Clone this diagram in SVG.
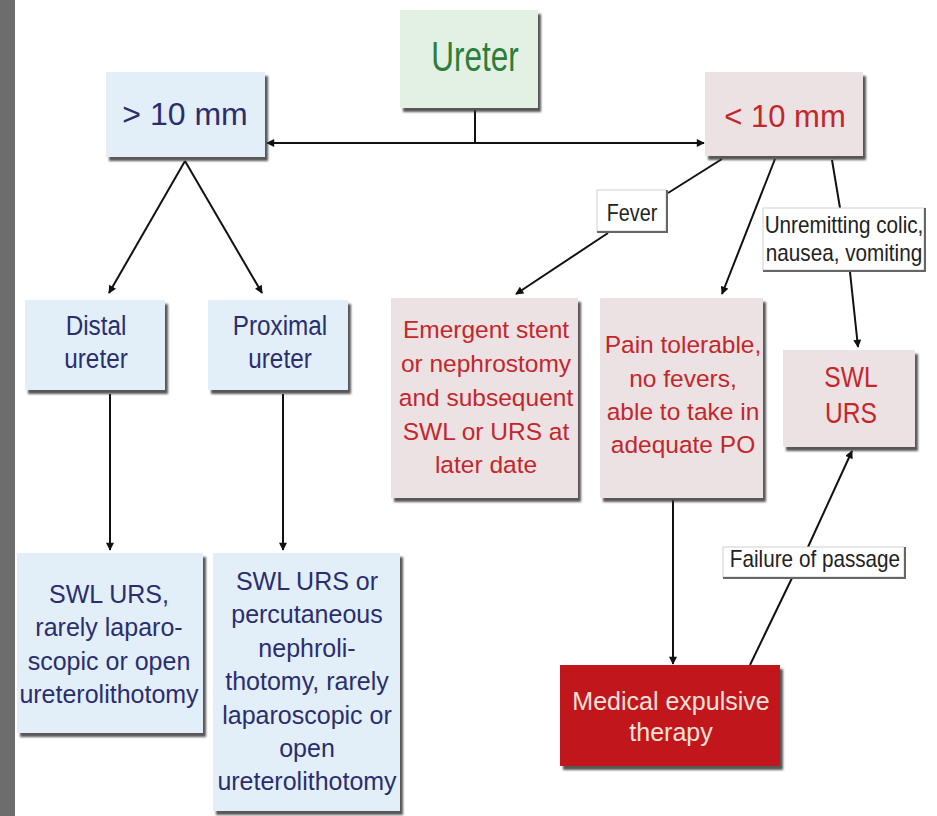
<svg xmlns="http://www.w3.org/2000/svg" width="937" height="816" viewBox="0 0 937 816">
<defs>
<style>
.t{font-family:"Liberation Sans",Arial,sans-serif;text-anchor:middle}
.blue{fill:#e3eff8}
.pink{fill:#ece2e3}
.navy{fill:#2b2e6e}
.red{fill:#c3272b}
.ln{stroke:#111;stroke-width:2;fill:none}
.lbl{fill:#fff;stroke:#d0d0d0;stroke-width:1}
.lsh{stroke:#666;stroke-width:2;fill:none}
</style>
<filter id="sh" x="-10%" y="-10%" width="130%" height="130%">
<feDropShadow dx="3" dy="4" stdDeviation="1" flood-color="#3a3a3a" flood-opacity="0.85"/>
</filter>
<marker id="ah" viewBox="0 0 10 10" refX="9" refY="5" markerWidth="9" markerHeight="8" markerUnits="userSpaceOnUse" orient="auto-start-reverse">
<path d="M0,0 L10,5 L0,10 z" fill="#111"/>
</marker>
</defs>
<rect x="0" y="0" width="937" height="816" fill="#fff"/>
<rect x="0" y="0" width="15" height="816" fill="#6d6d6d"/>

<g id="connectors">
<line class="ln" x1="267" y1="143" x2="704" y2="143" marker-start="url(#ah)" marker-end="url(#ah)"/>
<line class="ln" x1="475" y1="110" x2="475" y2="143"/>
<line class="ln" x1="185" y1="161" x2="109" y2="293" marker-end="url(#ah)"/>
<line class="ln" x1="185" y1="161" x2="262" y2="293" marker-end="url(#ah)"/>
<line class="ln" x1="110" y1="394" x2="110" y2="550" marker-end="url(#ah)"/>
<line class="ln" x1="283" y1="394" x2="283" y2="550" marker-end="url(#ah)"/>
<line class="ln" x1="722" y1="159" x2="668" y2="193"/>
<line class="ln" x1="608" y1="233" x2="516" y2="294" marker-end="url(#ah)"/>
<line class="ln" x1="775" y1="159" x2="722" y2="294" marker-end="url(#ah)"/>
<line class="ln" x1="832" y1="160" x2="840" y2="208"/>
<line class="ln" x1="850" y1="272" x2="858" y2="347" marker-end="url(#ah)"/>
<line class="ln" x1="673" y1="500" x2="673" y2="664" marker-end="url(#ah)"/>
<line class="ln" x1="750" y1="665" x2="792" y2="578"/>
<line class="ln" x1="808" y1="547" x2="852" y2="451" marker-end="url(#ah)"/>
</g>

<g id="ureter">
<rect x="400" y="10" width="138" height="98" fill="#e2f1e4" filter="url(#sh)"/>
<text class="t" transform="translate(475,0) scale(0.75,1)" font-size="42" fill="#2e7d3a"><tspan x="0" y="71">Ureter</tspan></text>
</g>

<g id="gt10">
<rect class="blue" x="106" y="72" width="159" height="85" filter="url(#sh)"/>
<text class="t navy" x="185" y="125" font-size="32">&gt; 10 mm</text>
</g>

<g id="lt10">
<rect class="pink" x="705" y="72" width="158" height="84" filter="url(#sh)"/>
<text class="t red" x="785" y="127" font-size="31">&lt; 10 mm</text>
</g>

<g id="distal">
<rect class="blue" x="25" y="300" width="140" height="90" filter="url(#sh)"/>
<text class="t navy" transform="translate(96,0) scale(0.9,1)" font-size="27"><tspan x="0" y="335">Distal</tspan><tspan x="0" y="368">ureter</tspan></text>
</g>

<g id="proximal">
<rect class="blue" x="208" y="300" width="140" height="90" filter="url(#sh)"/>
<text class="t navy" transform="translate(280,0) scale(0.9,1)" font-size="27"><tspan x="0" y="335">Proximal</tspan><tspan x="0" y="368">ureter</tspan></text>
</g>

<g id="emergent">
<rect class="pink" x="391" y="298" width="187" height="200" filter="url(#sh)"/>
<text class="t red" x="486" font-size="24.5"><tspan x="486" y="338">Emergent stent</tspan><tspan x="486" y="372">or nephrostomy</tspan><tspan x="486" y="406">and subsequent</tspan><tspan x="486" y="440">SWL or URS at</tspan><tspan x="486" y="473">later date</tspan></text>
</g>

<g id="pain">
<rect class="pink" x="600" y="298" width="163" height="200" filter="url(#sh)"/>
<text class="t red" font-size="24.5"><tspan x="683" y="353">Pain tolerable,</tspan><tspan x="683" y="387">no fevers,</tspan><tspan x="683" y="420">able to take in</tspan><tspan x="683" y="453">adequate PO</tspan></text>
</g>

<g id="swlurs">
<rect class="pink" x="783" y="350" width="132" height="97" filter="url(#sh)"/>
<text class="t red" transform="translate(851,0) scale(0.82,1)" font-size="30"><tspan x="0" y="387">SWL</tspan><tspan x="0" y="423">URS</tspan></text>
</g>

<g id="distal-tx">
<rect class="blue" x="17" y="553" width="186" height="180" filter="url(#sh)"/>
<text class="t navy" font-size="25"><tspan x="109" y="603">SWL URS,</tspan><tspan x="109" y="636">rarely laparo-</tspan><tspan x="109" y="670">scopic or open</tspan><tspan x="109" y="703">ureterolithotomy</tspan></text>
</g>

<g id="proximal-tx">
<rect class="blue" x="213" y="553" width="187" height="258" filter="url(#sh)"/>
<text class="t navy" font-size="25"><tspan x="307" y="590">SWL URS or</tspan><tspan x="307" y="623">percutaneous</tspan><tspan x="307" y="657">nephroli-</tspan><tspan x="307" y="690">thotomy, rarely</tspan><tspan x="307" y="724">laparoscopic or</tspan><tspan x="307" y="757">open</tspan><tspan x="307" y="790">ureterolithotomy</tspan></text>
</g>

<g id="met">
<rect x="560" y="665" width="220" height="101" fill="#c0161d" filter="url(#sh)"/>
<text class="t" font-size="25" fill="#fbe2da"><tspan x="671" y="710">Medical expulsive</tspan><tspan x="671" y="741">therapy</tspan></text>
</g>

<g id="fever">
<rect class="lbl" x="597" y="190" width="69" height="41"/>
<polyline class="lsh" points="597,232 667,232 667,190"/>
<text class="t" transform="translate(632,0) scale(0.86,1)" font-size="23" fill="#222"><tspan x="0" y="221">Fever</tspan></text>
</g>

<g id="unremitting">
<rect class="lbl" x="763" y="208" width="161" height="62"/>
<polyline class="lsh" points="763,271 925,271 925,208"/>
<text class="t" transform="translate(844,0) scale(0.9,1)" font-size="23" fill="#222"><tspan x="0" y="233">Unremitting colic,</tspan><tspan x="0" y="261">nausea, vomiting</tspan></text>
</g>

<g id="failure">
<rect class="lbl" x="723" y="547" width="181" height="30"/>
<polyline class="lsh" points="723,578 905,578 905,547"/>
<text class="t" transform="translate(815,0) scale(0.9,1)" font-size="23" fill="#222"><tspan x="0" y="567">Failure of passage</tspan></text>
</g>
</svg>
